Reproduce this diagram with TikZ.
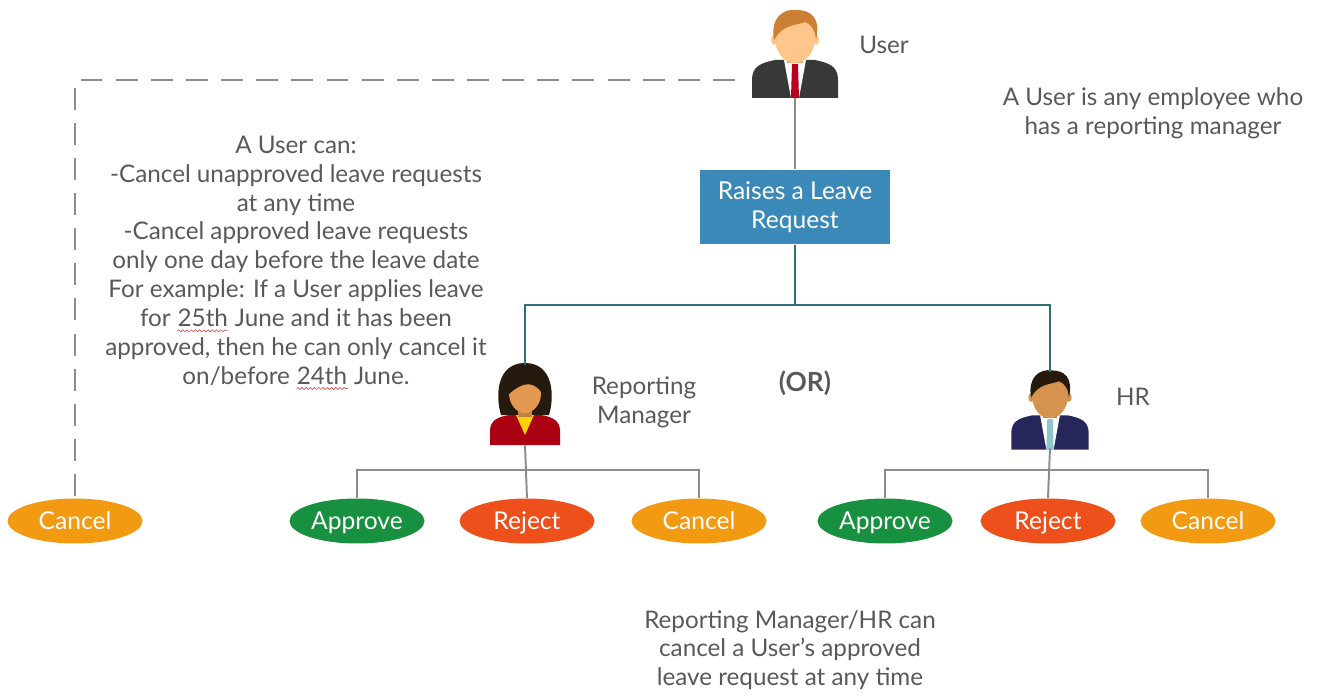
\documentclass[tikz,border=0pt]{standalone}
\usepackage{fontspec}
\setmainfont{Lato}
\usetikzlibrary{shapes.geometric,decorations.pathmorphing}

\definecolor{txtgray}{HTML}{595959}
\definecolor{linegray}{HTML}{8C8C8C}
\definecolor{flowteal}{HTML}{2E6F79}
\definecolor{reqblue}{HTML}{3B89B9}
\definecolor{okgreen}{HTML}{17913F}
\definecolor{noorange}{HTML}{EE501C}
\definecolor{cnlorange}{HTML}{F29A12}
\definecolor{spellred}{HTML}{D84A4A}

% red squiggle under the dates
\newcommand\spellwave[1]{\tikz[baseline=(w.base)]{\node[inner sep=0pt] (w) {#1};
  \draw[spellred,line width=0.35pt,decorate,decoration={snake,amplitude=0.6pt,segment length=2.4pt}]
    ([yshift=-2.2pt]w.south west) -- ([yshift=-2.2pt]w.south east);}}

% simple person figures, drawn in pixel units around the icon centre
\tikzset{
  pics/suitman/.style n args={5}{code={
    % jacket
    \fill[#3] (-43,44) -- (-43,26) .. controls (-43,12) and (-34,9) .. (-20,6)
      -- (20,6) .. controls (34,9) and (43,12) .. (43,26) -- (43,44) -- cycle;
    \fill[#5] (-11,6) -- (11,6) -- (4,44) -- (-4,44) -- cycle;
    \fill[#4] (-3,10) -- (3,10) -- (4,44) -- (-4,44) -- cycle;
    % neck and head
    \fill[#2!85!black] (-8,-4) rectangle (8,9);
    \fill[#2] (-21,-14) ellipse (3 and 5);
    \fill[#2] (21,-14) ellipse (3 and 5);
    \fill[#2] (0,-16) ellipse (20 and 25);
    % hair
    \fill[#1] (-21,-14) .. controls (-25,-36) and (-12,-46) .. (2,-44)
      .. controls (16,-44) and (26,-36) .. (21,-14)
      .. controls (20,-24) and (16,-30) .. (10,-32)
      .. controls (0,-28) and (-12,-30) .. (-21,-14) -- cycle;
  }},
  pics/lady/.style n args={4}{code={
    % hair behind the face
    \fill[#1] (-24,10) .. controls (-30,-10) and (-28,-42) .. (0,-42)
      .. controls (28,-42) and (30,-10) .. (24,10) -- cycle;
    % top
    \fill[#3] (-35,40) -- (-35,26) .. controls (-35,16) and (-28,12) .. (-16,10)
      -- (16,10) .. controls (28,12) and (35,16) .. (35,26) -- (35,40) -- cycle;
    \fill[#4] (-9,10) -- (9,10) -- (0,30) -- cycle;
    \fill[#2!85!black] (-7,0) rectangle (7,12);
    \fill[#2] (0,-12) ellipse (16 and 20);
    % fringe
    \fill[#1] (-17,-10) .. controls (-18,-30) and (-6,-36) .. (4,-34)
      .. controls (14,-32) and (18,-24) .. (17,-12)
      .. controls (10,-22) and (0,-26) .. (-17,-10) -- cycle;
  }}
}

\begin{document}
\begin{tikzpicture}[x=0.02cm,y=-0.02cm,
  lbl/.style={text=txtgray,font=\fontsize{13.8}{16.4}\selectfont,align=center,inner sep=0pt},
  choice/.style={ellipse,minimum width=2.7cm,minimum height=0.9cm,inner sep=0pt,
    text=white,font=\fontsize{14}{16}\selectfont,text height=2ex,text depth=0.1ex},
  iconbox/.style={inner sep=0pt,minimum width=#1},
  link/.style={linegray,line width=1.1pt},
  flow/.style={flowteal,line width=1.6pt}]
\useasboundingbox (0,0) rectangle (1323,696);

% people
\node[iconbox=1.72cm,minimum height=1.76cm] (user) at (795,54) {};
\pic at (user.center) {suitman={brown!80!orange}{orange!45!white}{black!78}{purple!60!red!85!black}{white}};
\node[iconbox=1.4cm,minimum height=1.6cm] (rm) at (525,405) {};
\pic at (rm.center) {lady={black!80!brown}{brown!55!orange!80!white}{red!60!purple!75!black}{yellow!70!orange}};
\node[iconbox=1.56cm,minimum height=1.52cm] (hr) at (1050,410) {};
\pic[scale=0.9] at (hr.center) {suitman={black!80!brown}{brown!75!orange!85!white}{blue!25!black!85}{teal!45!white}{white}};

\node[lbl] (userlbl) at (884,45) {User};
\node[lbl] (rmlbl) at (644,402) {Reporting\\Manager};
\node[lbl] (hrlbl) at (1133,397) {HR};
\node[lbl,font=\fontsize{15}{16}\selectfont\bfseries] (or) at (805,383) {(OR)};

% request box
\node[fill=reqblue,text=white,minimum width=3.8cm,minimum height=1.5cm,align=center,
  font=\fontsize{14}{16.6}\selectfont] (req) at (795,207) {Raises a Leave\\Request};

% notes
\node[lbl] (usernote) at (296,263) {A User can:\\-Cancel unapproved leave requests\\at any time\\-Cancel approved leave requests\\only one day before the leave date\\For example: If a User applies leave\\for \spellwave{25th} June and it has been\\approved, then he can only cancel it\\on/before \spellwave{24th} June.};
\node[lbl] (whonote) at (1153,113) {A User is any employee who\\has a reporting manager};
\node[lbl] (mgrnote) at (790,650) {Reporting Manager/HR can\\cancel a User's approved\\leave request at any time};

% outcomes
\node[choice,fill=cnlorange] (ucancel) at (75,521) {Cancel};
\node[choice,fill=okgreen] (rmapp) at (357,521) {Approve};
\node[choice,fill=noorange] (rmrej) at (527,521) {Reject};
\node[choice,fill=cnlorange] (rmcan) at (699,521) {Cancel};
\node[choice,fill=okgreen] (hrapp) at (885,521) {Approve};
\node[choice,fill=noorange] (hrrej) at (1048,521) {Reject};
\node[choice,fill=cnlorange] (hrcan) at (1208,521) {Cancel};

% connectors
\coordinate (dashend) at (735,80);
\coordinate (split) at (795,305);
\coordinate (rmbar) at (527,470);
\coordinate (hrbar) at (1048,470);

\draw[link,dash pattern=on 12.5pt off 7.5pt] (dashend) -| (ucancel.north);
\draw[link] (user.south) -- (req.north);
\draw[flow] (req.south) -- (split);
\draw[flow] (split) -| (rm.north);
\draw[flow] (split) -| (hr.north);

\draw[link] (rm.south) -- (rmrej.north);
\draw[link] (rmapp.north) |- (rmbar) -| (rmcan.north);
\draw[link] (hr.south) -- (hrrej.north);
\draw[link] (hrapp.north) |- (hrbar) -| (hrcan.north);
\end{tikzpicture}
\end{document}
